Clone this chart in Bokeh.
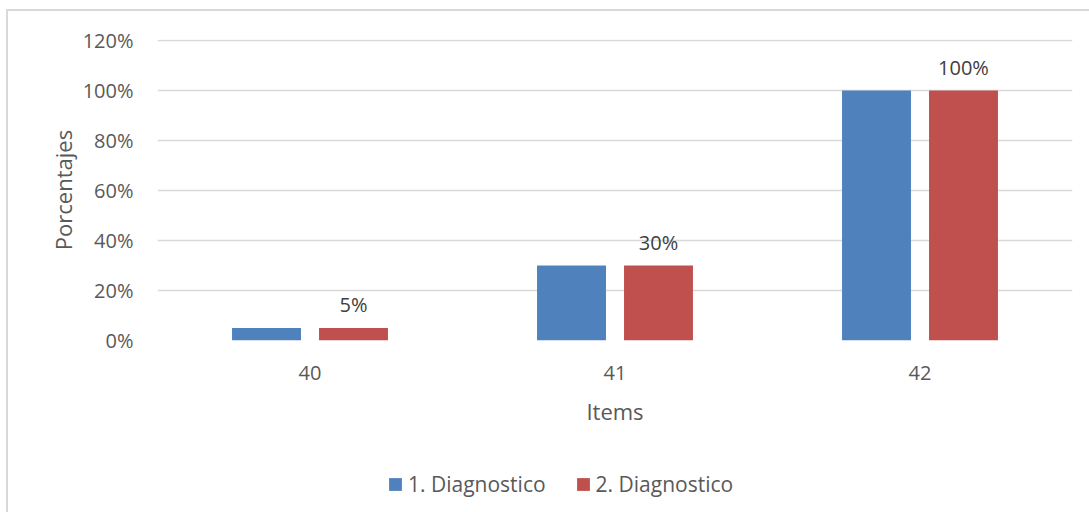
from bokeh.plotting import figure
from bokeh.layouts import column
from bokeh.models import (FactorRange, Range1d, ColumnDataSource, FixedTicker,
                          PrintfTickFormatter, Legend, LegendItem, LabelSet)
from bokeh.core.properties import value
from bokeh.transform import dodge
from bokeh.embed import file_html
from bokeh.resources import INLINE

items = ["40", "41", "42"]
diag1 = [5, 30, 100]
diag2 = [5, 30, 100]
labels2 = ["5%", "30%", "100%"]
series_names = ["1. Diagnostico", "2. Diagnostico"]
y_ticks = [0, 20, 40, 60, 80, 100, 120]

FONT = "Open Sans"
TXT = "#595959"
BLUE = "#4F81BD"
RED = "#C0504D"
GRAY = "#d9d9d9"

src = ColumnDataSource(dict(items=items, d1=diag1, d2=diag2, lab=labels2))

H1 = 455
p = figure(width=1089, height=H1, output_backend="svg", toolbar_location=None,
           x_range=FactorRange(*items, range_padding=0), y_range=Range1d(0, 120.4),
           min_border_left=157, min_border_right=17, min_border_top=39,
           min_border_bottom=H1 - 340)
p.styles = {"background": f"linear-gradient({GRAY},{GRAY}) 6px 9px / 2px 700px no-repeat, "
                          f"linear-gradient({GRAY},{GRAY}) 6px 9px / 1300px 2px no-repeat, #ffffff"}
p.outline_line_color = None
p.background_fill_color = "white"
p.border_fill_color = None

off = 0.1426
bw = 0.226
r1 = p.vbar(x=dodge("items", -off, range=p.x_range), top="d1", width=bw,
            source=src, fill_color=BLUE, line_color=None)
r2 = p.vbar(x=dodge("items", off, range=p.x_range), top="d2", width=bw,
            source=src, fill_color=RED, line_color=None)

lbl = LabelSet(x=dodge("items", off, range=p.x_range), y="d2", text="lab",
               source=src, text_align="center", text_baseline="bottom",
               y_offset=10, text_font=value(FONT), text_font_size="20px",
               text_color="#404040")
p.add_layout(lbl)

p.xgrid.grid_line_color = None
p.ygrid.grid_line_color = GRAY
p.ygrid.grid_line_width = 1.3
p.yaxis.ticker = FixedTicker(ticks=y_ticks)
p.yaxis.formatter = PrintfTickFormatter(format="%d%%")

for ax in (p.xaxis[0], p.yaxis[0]):
    ax.axis_line_color = None
    ax.major_tick_line_color = None
    ax.minor_tick_line_color = None
    ax.major_tick_out = 0
    ax.major_tick_in = 0
    ax.major_label_text_font = FONT
    ax.major_label_text_font_size = "20px"
    ax.major_label_text_color = TXT
    ax.axis_label_text_font = FONT
    ax.axis_label_text_font_size = "22px"
    ax.axis_label_text_color = TXT
    ax.axis_label_text_font_style = "normal"

p.yaxis.axis_label = "Porcentajes"
p.yaxis.major_label_standoff = 24
p.yaxis.axis_label_standoff = 2
p.xaxis.axis_label = "Items"
p.xaxis.major_label_standoff = 25
p.xaxis.axis_label_standoff = 13

# legend strip (bars of the same data, kept out of view, feed the legend glyphs)
H2 = 512 - H1
q = figure(width=1089, height=H2, output_backend="svg", toolbar_location=None,
           x_range=FactorRange(*items, range_padding=0), y_range=Range1d(500, 600),
           min_border=0, min_border_left=0, min_border_right=0,
           min_border_top=0, min_border_bottom=0)
q.styles = {"background": f"linear-gradient({GRAY},{GRAY}) 6px 0px / 2px 700px no-repeat, #ffffff"}
q.axis.visible = False
q.grid.visible = False
q.outline_line_color = None
q.background_fill_color = None
q.border_fill_color = None
lr1 = q.vbar(x=dodge("items", -off, range=q.x_range), top="d1", width=bw,
             source=src, fill_color=BLUE, line_color=None)
lr2 = q.vbar(x=dodge("items", off, range=q.x_range), top="d2", width=bw,
             source=src, fill_color=RED, line_color=None)

legend = Legend(items=[LegendItem(label=series_names[0], renderers=[lr1]),
                       LegendItem(label=series_names[1], renderers=[lr2])],
                location=(230, 14), orientation="horizontal",
                padding=0, margin=0, spacing=29, label_standoff=5,
                glyph_width=16, glyph_height=16,
                label_text_font=FONT, label_text_font_size="21px",
                label_text_color=TXT, border_line_color=None,
                background_fill_alpha=0)
q.add_layout(legend, "center")

layout = column(p, q, spacing=0)
open("out.html", "w").write(file_html(layout, INLINE))
